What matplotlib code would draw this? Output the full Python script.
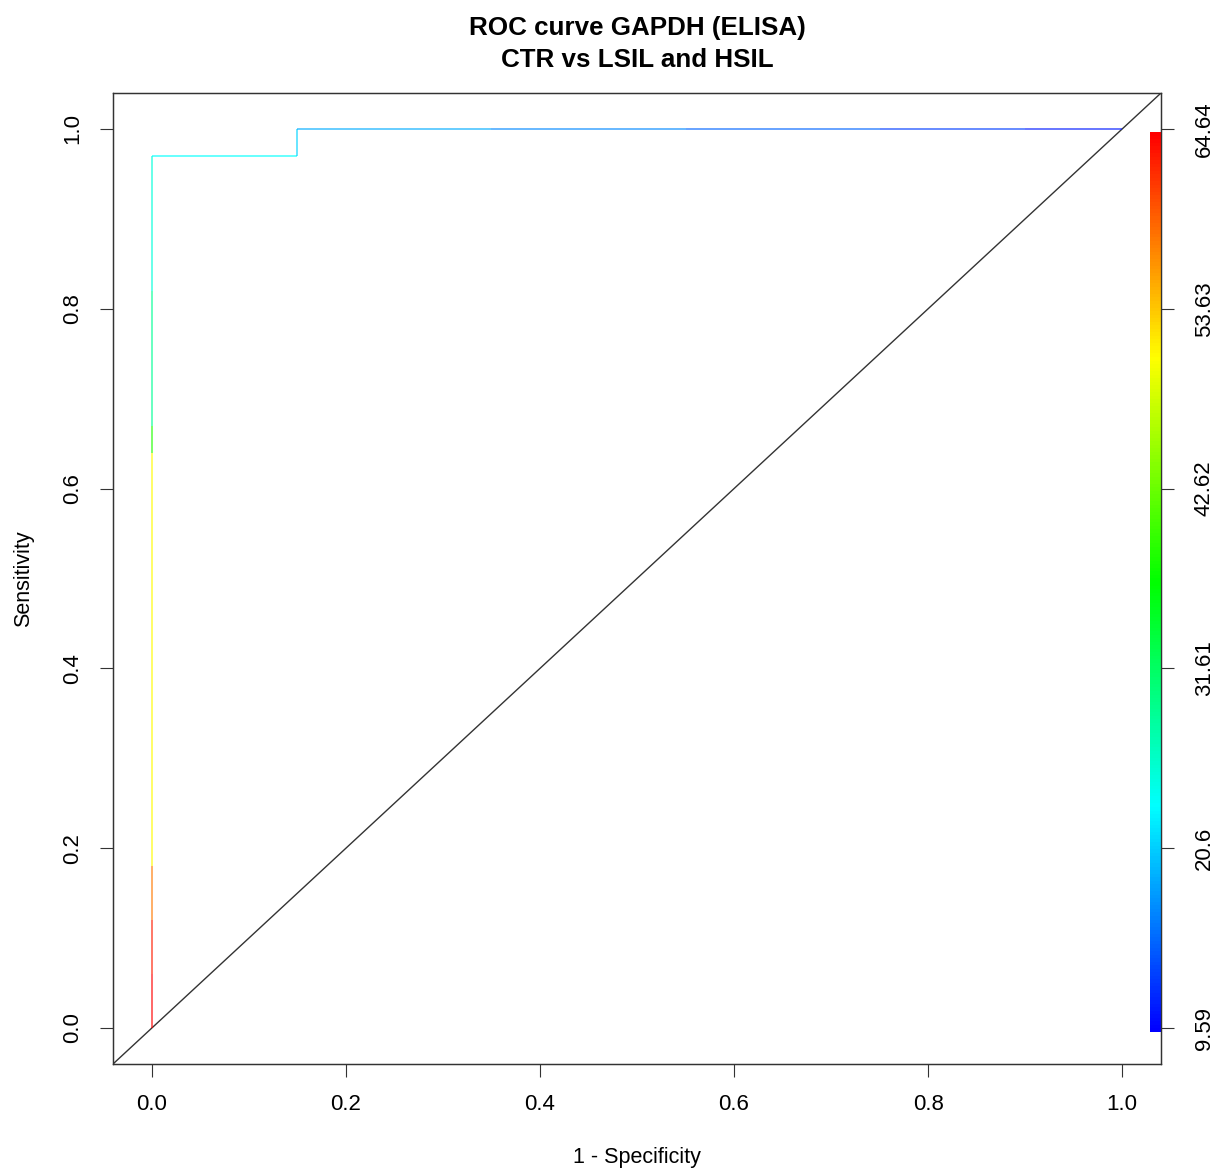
import numpy as np
import matplotlib
matplotlib.use("Agg")
import matplotlib.pyplot as plt
from matplotlib.colors import ListedColormap, Normalize, hsv_to_rgb
from matplotlib.collections import LineCollection

# ROC points (1 - specificity, sensitivity) and cutoff at each point
fpr = [0.00, 0.00, 0.00, 0.00, 0.00, 0.00, 0.00, 0.00, 0.15, 0.15, 0.35, 0.55, 0.75, 0.90, 1.00]
tpr = [0.00, 0.06, 0.12, 0.18, 0.64, 0.67, 0.82, 0.97, 0.97, 1.00, 1.00, 1.00, 1.00, 1.00, 1.00]
cutoff = [64.64, 63.0, 58.0, 51.0, 39.0, 29.0, 25.5, 23.5, 21.0, 19.0, 17.0, 15.0, 13.0, 11.0, 9.59]

cb_labels = ["9.59", "20.6", "31.61", "42.62", "53.63", "64.64"]
cmin, cmax = 9.59, 64.64

plt.rcParams['font.family'] = ['Liberation Sans', 'DejaVu Sans']

# R rainbow(start=0, end=4/6): blue for low cutoffs, red for high
hues = np.linspace(4 / 6, 0, 256)
hsv = np.stack([hues, np.ones(256), np.ones(256)], axis=1)
rainbow = ListedColormap(hsv_to_rgb(hsv))
norm = Normalize(cmin, cmax)

fig = plt.figure(figsize=(12.16, 11.71), dpi=100)
ax = fig.add_axes([113 / 1216, 1 - 1064 / 1171, 1048 / 1216, 971 / 1171])
ax.set_xlim(-0.04, 1.04)
ax.set_ylim(-0.04, 1.04)

# diagonal reference line
ax.plot([-0.04, 1.04], [-0.04, 1.04], color="#333333", lw=1.0)

# colorized ROC curve
pts = np.column_stack([fpr, tpr])
segs = np.stack([pts[:-1], pts[1:]], axis=1)
lc = LineCollection(segs, colors=rainbow(norm(np.array(cutoff[:-1]))), lw=1.4, alpha=0.6)
ax.add_collection(lc)

# color bar drawn inside the plot region
grad = np.linspace(cmin, cmax, 256).reshape(-1, 1)
ax.imshow(grad, cmap=rainbow, norm=norm, extent=[1.0288, 1.04, -0.004, 0.996],
          aspect="auto", origin="lower", zorder=3)

ticks = [0.0, 0.2, 0.4, 0.6, 0.8, 1.0]
ax.set_xticks(ticks)
ax.set_yticks(ticks)
ax.set_xticklabels([f"{t:.1f}" for t in ticks])
ax.set_yticklabels([f"{t:.1f}" for t in ticks], rotation=90, va="center")
ax.tick_params(length=9.5, width=0.8, labelsize=16, pad=12, color="#333333")

ax2 = ax.twinx()
ax2.set_ylim(-0.04, 1.04)
ax2.set_yticks(ticks)
ax2.set_yticklabels(cb_labels, rotation=90, va="center")
ax2.tick_params(length=9.5, width=0.8, labelsize=16, pad=14, color="#333333")

for a in (ax, ax2):
    for s in a.spines.values():
        s.set_color("#333333")
        s.set_linewidth(0.9)

ax.set_xlabel("1 - Specificity", fontsize=15.5, labelpad=23)
ax.set_ylabel("Sensitivity", fontsize=15.5, labelpad=20)
ax.set_title("ROC curve GAPDH (ELISA)\nCTR vs LSIL and HSIL", fontsize=18.7,
             fontweight="bold", pad=19, linespacing=1.4)

fig.savefig("out.png", dpi=100)
